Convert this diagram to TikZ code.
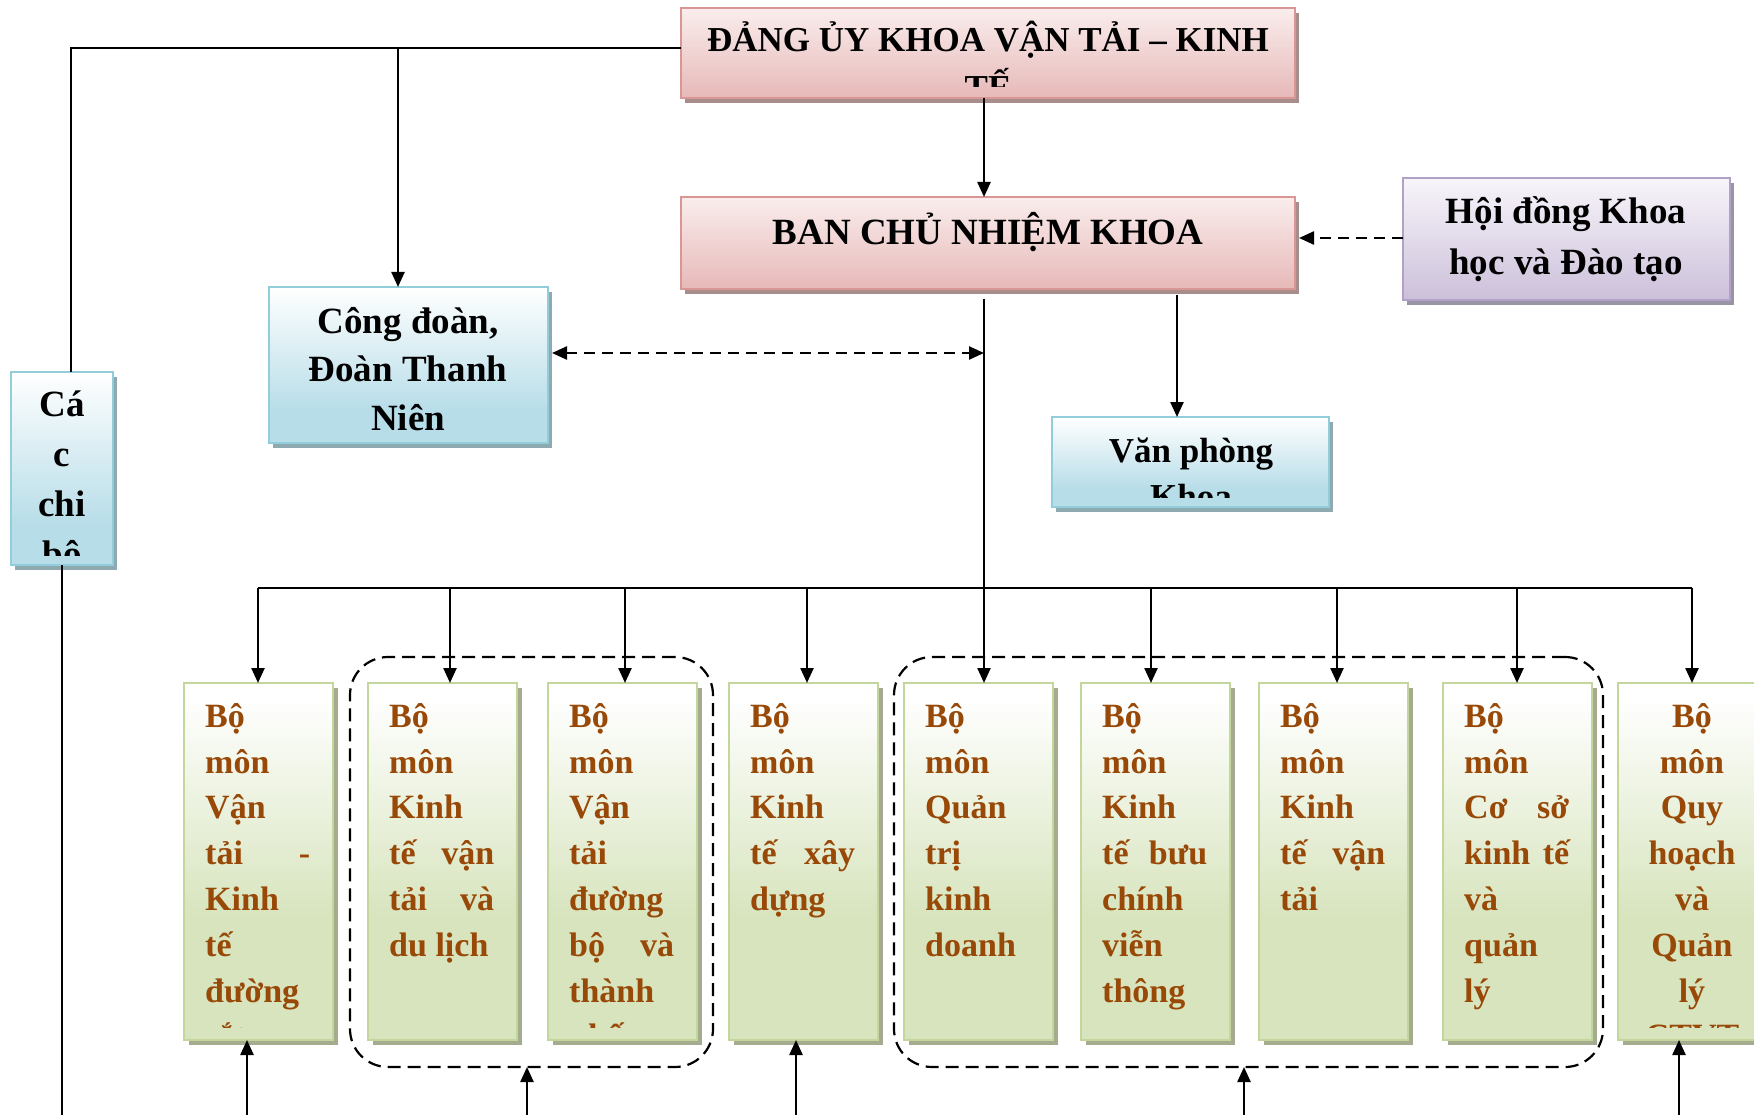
\documentclass[tikz,border=0pt]{standalone}
\usepackage{fontspec}
\setmainfont{Liberation Serif}
\usetikzlibrary{arrows.meta,shadows}

\definecolor{pborder}{HTML}{D99694}
\definecolor{ptop}{HTML}{FAEDED}
\definecolor{pfill}{HTML}{E6B9B8}
\definecolor{pshadow}{HTML}{A88D8D}
\definecolor{bborder}{HTML}{92CDDC}
\definecolor{bfill}{HTML}{B7DDE8}
\definecolor{bshadow}{HTML}{8FA9B0}
\definecolor{vborder}{HTML}{B2A1C7}
\definecolor{vfill}{HTML}{CCC0DA}
\definecolor{vtopc}{HTML}{F8F5FA}
\definecolor{vshadow}{HTML}{9A93A6}
\definecolor{gborder}{HTML}{C3D69B}
\definecolor{gfill}{HTML}{D7E4BD}
\definecolor{gshadow}{HTML}{A4AB8F}
\definecolor{txtbrown}{HTML}{984807}

\pgfdeclareverticalshading{pshade}{100bp}{color(0bp)=(pfill); color(25bp)=(pfill); color(75bp)=(ptop); color(100bp)=(ptop)}
\pgfdeclareverticalshading{bshade}{100bp}{color(0bp)=(bfill); color(25bp)=(bfill); color(35bp)=(bfill); color(75bp)=(white); color(100bp)=(white)}
\pgfdeclareverticalshading{vshade}{100bp}{color(0bp)=(vfill); color(25bp)=(vfill); color(75bp)=(vtopc); color(100bp)=(vtopc)}
\pgfdeclareverticalshading{gshade}{100bp}{color(0bp)=(gfill); color(25bp)=(gfill); color(42bp)=(gfill); color(73bp)=(white); color(100bp)=(white)}

\newcommand\jl[2]{\hbox to 105pt{#1\hfil #2}}

\tikzset{
  boxbase/.style={draw, line width=2.8pt, inner sep=0pt, outer sep=0pt, anchor=north west, shade},
  pinkbox/.style={boxbase, draw=pborder, shading=pshade,
    drop shadow={shadow xshift=4pt, shadow yshift=-5pt, fill=pshadow, opacity=1}},
  bluebox/.style={boxbase, draw=bborder, shading=bshade,
    drop shadow={shadow xshift=4pt, shadow yshift=-5pt, fill=bshadow, opacity=1}},
  violetbox/.style={boxbase, draw=vborder, shading=vshade,
    drop shadow={shadow xshift=4pt, shadow yshift=-5pt, fill=vshadow, opacity=1}},
  greenbox/.style={boxbase, draw=gborder, shading=gshade, minimum width=149pt, minimum height=357pt,
    drop shadow={shadow xshift=5pt, shadow yshift=-5pt, fill=gshadow, opacity=1}},
  grp/.style={draw, line width=2.2pt, dash pattern=on 13pt off 7pt, rounded corners=38pt,
    inner sep=0pt, outer sep=0pt, anchor=north west},
  hdbig/.style={inner sep=0pt, anchor=north, align=center, text=black,
    font=\fontsize{37pt}{49pt}\selectfont\bfseries},
  hdsmall/.style={inner sep=0pt, anchor=north, align=center, text=black,
    font=\fontsize{35pt}{48pt}\selectfont\bfseries},
  bmtxt/.style={inner sep=0pt, anchor=north west, align=left, text=txtbrown,
    font=\fontsize{34pt}{45.8pt}\selectfont\bfseries},
  line/.style={line width=2.4pt, draw=black},
  conn/.style={line, -{Triangle[length=15pt,width=13pt]}},
  dconn/.style={conn, dash pattern=on 11pt off 7pt},
  dboth/.style={line, dash pattern=on 11pt off 7pt, {Triangle[length=15pt,width=13pt]}-{Triangle[length=15pt,width=13pt]}}
}

\begin{document}
\begin{tikzpicture}[x=1pt,y=-1pt]
\fill[white] (0,0) rectangle (1754,1115);
\path[use as bounding box] (0,0) rectangle (1754,1115);
\clip (0,0) rectangle (1754,1115);

% dashed groups
\node[grp, minimum width=363pt, minimum height=410pt] (g1) at (350,657) {};
\node[grp, minimum width=709pt, minimum height=410pt] (g2) at (894,657) {};

% upper boxes
\node[pinkbox, minimum width=614pt, minimum height=90pt] (dang) at (681,8) {};
\node[pinkbox, minimum width=614pt, minimum height=92pt] (ban) at (681,197) {};
\node[violetbox, minimum width=327pt, minimum height=122pt] (hoi) at (1403,178) {};
\node[bluebox, minimum width=279pt, minimum height=156pt] (cong) at (269,287) {};
\node[bluebox, minimum width=102pt, minimum height=193pt] (chibo) at (11,372) {};
\node[bluebox, minimum width=277pt, minimum height=90pt] (van) at (1052,417) {};

% lower boxes
\node[greenbox] (b1) at (184,683) {};
\node[greenbox] (b2) at (368,683) {};
\node[greenbox] (b3) at (548,683) {};
\node[greenbox] (b4) at (729,683) {};
\node[greenbox] (b5) at (904,683) {};
\node[greenbox] (b6) at (1081,683) {};
\node[greenbox] (b7) at (1259,683) {};
\node[greenbox] (b8) at (1443,683) {};
\node[greenbox] (b9) at (1618,683) {};

% texts of upper boxes
\begin{scope}
\clip (dang.north west) rectangle ([yshift=11pt]dang.south east);
\node[hdsmall] (dangt) at (988,13) {\rule{0pt}{38pt}ĐẢNG ỦY KHOA VẬN TẢI – KINH\\TẾ};
\end{scope}
\node[hdbig] (bant) at (988,204) {\rule{0pt}{40pt}BAN CHỦ NHIỆM KHOA};
\node[hdbig, font=\fontsize{37pt}{51pt}\selectfont\bfseries] (hoit) at (1566,183) {\rule{0pt}{40pt}Hội đồng Khoa\\học và Đào tạo};
\node[hdbig, font=\fontsize{37pt}{48.5pt}\selectfont\bfseries] (congt) at (408,293) {\rule{0pt}{40pt}Công đoàn,\\Đoàn Thanh\\Niên};
\begin{scope}
\clip (chibo.north west) rectangle ([yshift=10pt]chibo.south east);
\node[hdbig, font=\fontsize{37pt}{50pt}\selectfont\bfseries] (chibot) at (62,376) {\rule{0pt}{40pt}Cá\\c\\chi\\bộ};
\end{scope}
\begin{scope}
\clip (van.north west) rectangle ([yshift=10pt]van.south east);
\node[hdsmall, font=\fontsize{35pt}{46pt}\selectfont\bfseries] (vant) at (1191,424) {\rule{0pt}{38pt}Văn phòng\\Khoa};
\end{scope}

% texts of lower boxes
\begin{scope}
\clip (b1.north west) rectangle ([yshift=13pt]b9.south east);
\node[bmtxt] (t1) at (205,691) {\rule{0pt}{36pt}Bộ\\môn\\Vận\\\jl{tải}{-}\\Kinh\\tế\\đường\\sắt};
\node[bmtxt] (t2) at (389,691) {\rule{0pt}{36pt}Bộ\\môn\\Kinh\\\jl{tế}{vận}\\\jl{tải}{và}\\du lịch};
\node[bmtxt] (t3) at (569,691) {\rule{0pt}{36pt}Bộ\\môn\\Vận\\tải\\đường\\\jl{bộ}{và}\\thành\\phố};
\node[bmtxt] (t4) at (750,691) {\rule{0pt}{36pt}Bộ\\môn\\Kinh\\\jl{tế}{xây}\\dựng};
\node[bmtxt] (t5) at (925,691) {\rule{0pt}{36pt}Bộ\\môn\\Quản\\trị\\kinh\\doanh};
\node[bmtxt] (t6) at (1102,691) {\rule{0pt}{36pt}Bộ\\môn\\Kinh\\\jl{tế}{bưu}\\chính\\viễn\\thông};
\node[bmtxt] (t7) at (1280,691) {\rule{0pt}{36pt}Bộ\\môn\\Kinh\\\jl{tế}{vận}\\tải};
\node[bmtxt] (t8) at (1464,691) {\rule{0pt}{36pt}Bộ\\môn\\\jl{Cơ}{sở}\\\jl{kinh}{tế}\\và\\quản\\lý};
\node[bmtxt, anchor=north, align=center] (t9) at (1692,691) {\rule{0pt}{36pt}Bộ\\môn\\Quy\\hoạch\\và\\Quản\\lý\\CTVT};
\end{scope}

% coordinates
\coordinate (lc) at (71,48);
\coordinate (lb) at (398,48);
\coordinate (mtop) at (984,299);
\coordinate (cm) at (984,353);
\coordinate (hy) at (1403,238);
\coordinate (vpt) at (1177,295);
\coordinate (ybot) at (0,1115);
\coordinate (a1) at (258,588);
\coordinate (a2) at (450,588);
\coordinate (a3) at (625,588);
\coordinate (a4) at (807,588);
\coordinate (a6) at (1151,588);
\coordinate (a7) at (1337,588);
\coordinate (a8) at (1517,588);
\coordinate (a9) at (1692,588);
\coordinate (u1) at (247,1115);
\coordinate (u2) at (527,1115);
\coordinate (u3) at (796,1115);
\coordinate (u4) at (1244,1115);
\coordinate (u5) at (1679,1115);

% connectors
\draw[conn] ([xshift=-4pt]dang.south) -- ([xshift=-4pt]ban.north);
\draw[line] (dang.west |- lc) -- (lc) -- (lc |- chibo.north);
\draw[conn] (lb) -- (lb |- cong.north);
\draw[line] (chibo.south) -- (chibo.south |- ybot);
\draw[dconn] (hy) -- ([xshift=4pt]ban.east |- hy);
\draw[dboth] ([xshift=4pt]cong.east |- cm) -- (cm);
\draw[conn] (vpt) -- (vpt |- van.north);
\draw[conn] (mtop) -- (mtop |- b5.north);
\draw[line] (a1) -- (a9);
\draw[conn] (a1) -- (a1 |- b1.north);
\draw[conn] (a2) -- (a2 |- b2.north);
\draw[conn] (a3) -- (a3 |- b3.north);
\draw[conn] (a4) -- (a4 |- b4.north);
\draw[conn] (a6) -- (a6 |- b6.north);
\draw[conn] (a7) -- (a7 |- b7.north);
\draw[conn] (a8) -- (a8 |- b8.north);
\draw[conn] (a9) -- (a9 |- b9.north);
\draw[conn] (u1) -- (u1 |- b1.south);
\draw[conn] (u2) -- (u2 |- g1.south);
\draw[conn] (u3) -- (u3 |- b4.south);
\draw[conn] (u4) -- (u4 |- g2.south);
\draw[conn] (u5) -- (u5 |- b9.south);
\end{tikzpicture}
\end{document}
